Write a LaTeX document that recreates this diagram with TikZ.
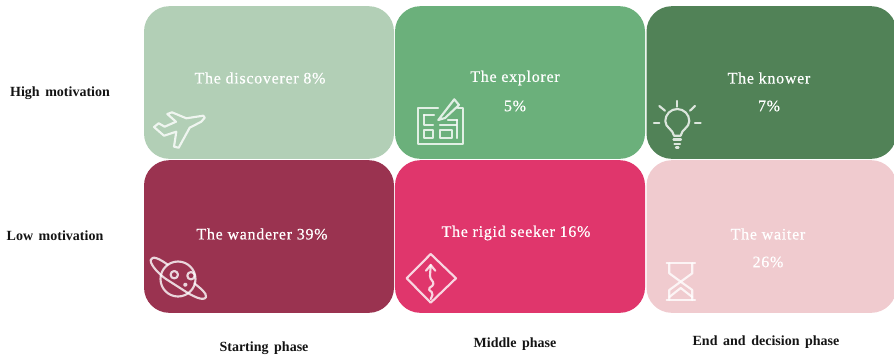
\documentclass[tikz,border=0pt]{standalone}
\usepackage{fontspec}
\setmainfont{Liberation Serif}
\newfontfamily\cellfont[LetterSpace=4.5,FakeBold=0.5]{Liberation Serif}
\newfontfamily\axisfont[WordSpace=1.6]{Liberation Serif}
\usepackage{tikz}

\definecolor{discovererc}{RGB}{178,207,182}
\definecolor{explorerc}{RGB}{107,176,123}
\definecolor{knowerc}{RGB}{81,130,87}
\definecolor{wandererc}{RGB}{154,51,80}
\definecolor{seekerc}{RGB}{224,54,108}
\definecolor{waiterc}{RGB}{240,203,207}
\definecolor{labelc}{RGB}{20,20,20}

\tikzset{
  cell/.style={rounded corners=19pt,inner sep=0pt,minimum width=187.5pt,minimum height=114.5pt},
  celltext/.style={inner sep=0.75pt,text=white,font=\cellfont\fontsize{12}{14}\selectfont},
  axistext/.style={inner sep=0.75pt,text=labelc,font=\axisfont\fontsize{10.5}{12}\selectfont\bfseries},
  icon/.style={draw=white,line width=1.6pt,line join=round,line cap=round,opacity=0.8}
}

\begin{document}
\begin{tikzpicture}[x=0.75pt,y=0.75pt,yscale=-1,xscale=1]
        \useasboundingbox (0,0) rectangle (894,358);

        % Cells
        \draw (269,82.5) node (discoverer) [cell,fill=discovererc] {};
        \draw (520,82.5) node (explorer) [cell,fill=explorerc] {};
        \draw (771.5,82.5) node (knower) [cell,fill=knowerc] {};
        \draw (269,236.5) node (wanderer) [cell,fill=wandererc] {};
        \draw (520,236.5) node (seeker) [cell,fill=seekerc] {};
        \draw (771.5,236.5) node (waiter) [cell,fill=waiterc] {};

        %Shape: Plane
        \draw [icon] (203.3,115.7) -- (186.3,118.3) -- (172,112.3) -- (167.3,114) -- (176,121.7) -- (164.7,126.7) -- (158.7,123.3) -- (154,127) -- (164,135.7) -- (176.3,131.7) -- (174,146.7) -- (178.7,147.7) -- (189.7,127.7) -- (201.3,121.7) -- (204.7,117.7) -- cycle ;

        %Shape: Map and pencil
        \draw [icon] (438,108.3) -- (417.7,108.3) -- (417.7,144.3) -- (463.3,144.3) -- (463.3,108.3) -- (458,108.3) ;
        \draw [icon] (438.3,120) -- (454.3,99.3) -- (459,105) -- (445,118) -- cycle ;
        \draw [icon] (424,115) -- (434,115) ;
        \draw [icon] (424,115) -- (424,125) -- (433,125) ;
        \draw [icon] (424,130) rectangle (433,138) ;
        \draw [icon] (440,130) rectangle (452,138) ;
        \draw [icon] (440,125) -- (456,125) ;
        \draw [icon] (448,120) -- (457,120) ;
        \draw [icon] (457,120) -- (457,138) ;

        %Shape: Bulb
        \draw [icon] (674,135.7) .. controls (673,129) and (665.3,128) .. (665.3,121) arc (180:360:12) .. controls (689.3,128) and (681.5,129) .. (680.7,135.7) -- cycle ;
        \foreach \xa/\ya/\xb/\yb in {677.3/101/677.3/106.7, 659.3/106/665/110.7, 695/106/690/110.7, 654/123.3/659.3/123.3, 695/123.3/700.7/123.3, 673.5/139.5/681/139.5, 674.5/144/680/144, 676/147.5/678.5/147.5}
          \draw [icon] (\xa,\ya) -- (\xb,\yb) ;

        %Shape: Planet
        \draw [icon] (178,279) circle [radius=17.5] ;
        \draw [icon] (174.3,274.7) circle [radius=3.7] ;
        \draw [icon] (191,275.7) circle [radius=3.7] ;
        \draw [icon] (185.3,284.7) circle [radius=1.2] ;
        \draw [icon] (167.7,264.7) .. controls (160,259) and (152,255) .. (150.7,260) .. controls (150,265) and (160,275) .. (166,279) -- (182.7,289.7) .. controls (192,296) and (204,302) .. (206,297) .. controls (207,293) and (200,288) .. (194.3,283.3) ;

        %Shape: Road sign
        \draw [icon] (430.7,254) -- (456,278.3) -- (430.7,302.7) -- (406.7,278.3) -- cycle ;
        \draw [icon] (426,270.7) -- (430.7,265) -- (435.3,270.7) ;
        \draw [icon] (430.7,265) -- (430,276) .. controls (430,280) and (434,281) .. (433.3,284) .. controls (433,287) and (428,287) .. (429.3,290) .. controls (430.5,292) and (433.5,292) .. (432.5,295) -- (430.7,299) ;

        %Shape: Hourglass
        \draw [icon] (666.7,263.3) -- (695,263.3) ;
        \draw [icon] (666.7,300) -- (695,300) ;
        \draw [icon] (669.3,263.3) -- (669.3,273.3) -- (680.7,281.7) -- (669.3,290) -- (669.3,300) ;
        \draw [icon] (692.3,263.3) -- (692.3,273.3) -- (680.7,281.7) -- (692.3,290) -- (692.3,300) ;
        \draw [icon] (669.3,297) -- (680.7,288) -- (692.3,297) ;

        % Text Node
        \draw (260,78) node (discoverertext) [celltext] {The discoverer 8\%};
        % Text Node
        \draw (515,78) node (explorertext) [celltext] {The explorer};
        % Text Node
        \draw (515,106) node (explorerpct) [celltext] {5\%};
        % Text Node
        \draw (769,78) node (knowertext) [celltext] {The knower};
        % Text Node
        \draw (769,106) node (knowerpct) [celltext] {7\%};
        % Text Node
        \draw (262,234) node (wanderertext) [celltext] {The wanderer 39\%};
        % Text Node
        \draw (516,233) node (seekertext) [celltext] {The rigid seeker 16\%};
        % Text Node
        \draw (768,234) node (waitertext) [celltext] {The waiter};
        % Text Node
        \draw (768,262) node (waiterpct) [celltext] {26\%};
        % Text Node
        \draw (60,93.5) node (hightext) [axistext] {High motivation};
        % Text Node
        \draw (55,235.5) node (lowtext) [axistext] {Low motivation};
        % Text Node
        \draw (264,348.5) node (startingtext) [axistext] {Starting phase};
        % Text Node
        \draw (515,344.5) node (middletext) [axistext] {Middle phase};
        % Text Node
        \draw (766,342.5) node (endtext) [axistext] {End and decision phase};

    \end{tikzpicture}
\end{document}
